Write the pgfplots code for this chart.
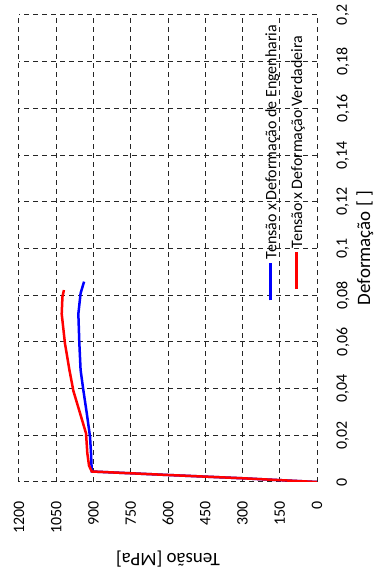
\documentclass[border=0pt]{standalone}
\usepackage{pgfplots}
\pgfplotsset{compat=1.18}
\usepackage{fontspec}
\setmainfont{Carlito}

\pgfplotstableread{
T D
0 0
300 0.0016
600 0.0030
907 0.0045
910 0.0124
914 0.0194
927 0.0294
941 0.0394
952 0.048
957 0.0594
961 0.072
952 0.0808
938 0.0858
}\eng
\pgfplotstableread{
T D
0 0
300 0.0016
600 0.0030
907 0.0045
918 0.0070
925 0.0124
930 0.0208
954 0.0294
981 0.039
997 0.048
1015 0.0594
1028 0.072
1025 0.0794
1019 0.0822
}\tru

\newcommand{\legline}[1]{\raisebox{0.28em}{\textcolor{#1}{\rule{37bp}{2.8bp}}}\hspace{4bp}}

\begin{document}
\begin{tikzpicture}[x=1bp,y=1bp]
\path[use as bounding box] (0,0) rectangle (384,576);
\begin{axis}[
  at={(19bp,94bp)}, anchor=south west,
  scale only axis, width=298bp, height=467bp,
  xmin=0, xmax=1200, ymin=0, ymax=0.2,
  x dir=reverse,
  xtick={0,150,300,450,600,750,900,1050,1200},
  ytick={0,0.02,0.04,0.06,0.08,0.1,0.12,0.14,0.16,0.18,0.2},
  grid=major,
  grid style={black!85, dash pattern=on 5bp off 4bp, line width=1bp},
  axis line style={draw=none},
  major tick length=0pt,
  font=\fontsize{16}{19}\selectfont,
  /pgf/number format/assume math mode=true,
  xticklabel style={rotate=90, anchor=east},
  xticklabel shift=16bp,
  xticklabel={\pgfmathprintnumber[fixed,precision=0,1000 sep={}]{\tick}},
  yticklabel pos=right,
  yticklabel style={rotate=90, anchor=north},
  yticklabel shift=16bp,
  yticklabel={\pgfmathprintnumber[fixed,use comma,precision=2]{\tick}},
  scaled y ticks=false, scaled x ticks=false,
  xlabel={Tensão [MPa]},
  xlabel style={at={(axis description cs:0.5,-0.164)}, rotate=180, anchor=center, inner sep=1bp, font=\fontsize{19}{22}\selectfont},
  ylabel={Deformação [ ]},
  ylabel style={at={(axis description cs:1.161,0.501)}, anchor=center, font=\fontsize{19}{22}\selectfont},
  legend columns=2,
  legend plot pos=none,
  legend style={draw=none, fill=none, at={(axis cs:129,0.0754)}, anchor=south, font=\fontsize{16}{19}\selectfont, column sep=8bp},
]
\addplot[blue, line width=2.5bp] table[x=T,y=D] {\eng};
\addlegendentry{\rotatebox{90}{\legline{blue}Tensão x Deformação de Engenharia}}
\addplot[red, line width=2.5bp] table[x=T,y=D] {\tru};
\addlegendentry{\rotatebox{90}{\legline{red}Tensão x Deformação Verdadeira}}
\end{axis}
\end{tikzpicture}
\end{document}
